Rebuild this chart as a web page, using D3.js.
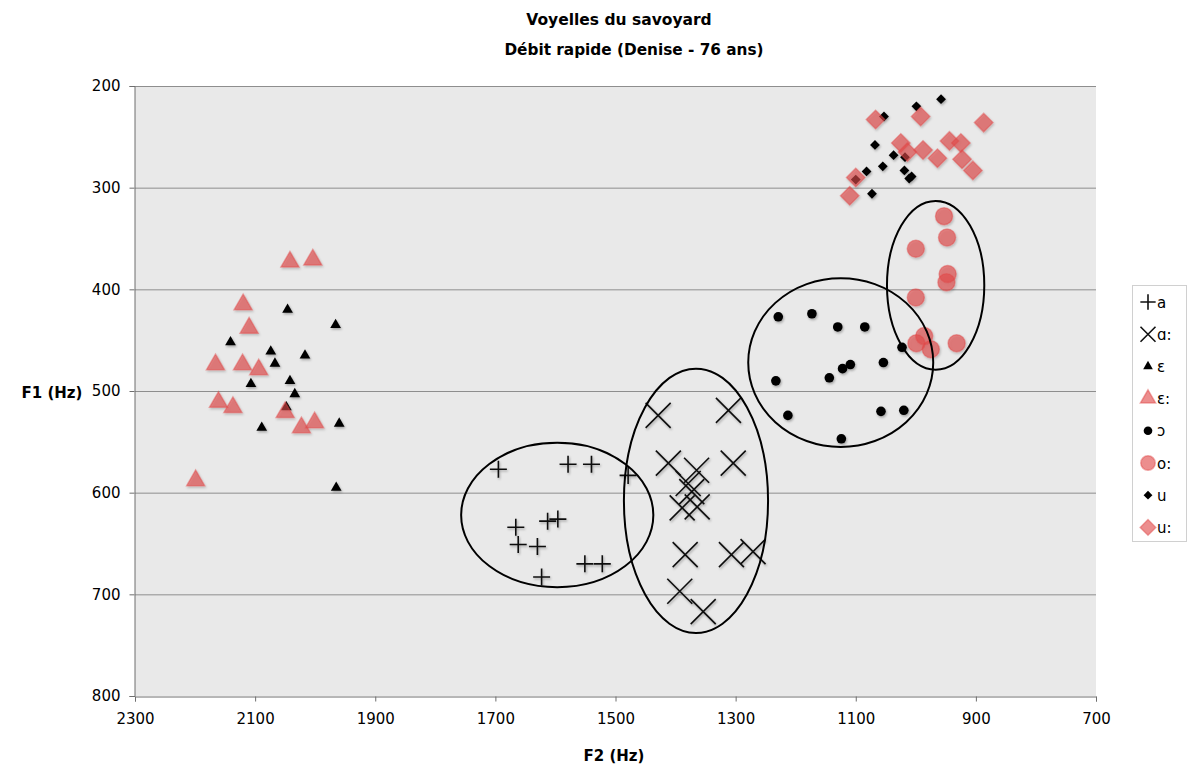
<!DOCTYPE html>
<html>
<head>
<meta charset="utf-8">
<script src="https://cdn.jsdelivr.net/npm/d3@7"></script>
<style>
  body { margin: 0; background: #fff; }
  svg { display: block; font-family: "DejaVu Sans", Verdana, sans-serif; }
</style>
</head>
<body>
<div id="chart"></div>
<script>
// values: F2 (Hz), F1 (Hz)
const aF2 = [1695, 1579, 1540, 1479, 1666, 1613, 1596, 1662, 1630, 1551, 1522, 1623];
const aF1 = [577, 572, 572, 583, 634, 628, 626, 651, 653, 670, 670, 683];

const aaF2 = [1429, 1312, 1412, 1365, 1304, 1379, 1373, 1389, 1364, 1384, 1307, 1271, 1393, 1354];
const aaF1 = [524, 519, 571, 578, 571, 591, 599, 615, 614, 661, 661, 658, 697, 717];

const eF2 = [2046, 1966, 2141, 2074, 2017, 2067, 2107, 2042, 2034, 2048, 2089, 1960, 1965];
const eF1 = [420, 435, 452, 461, 465, 473, 493, 490, 503, 516, 536, 532, 595];

const eeF2 = [2042, 2004, 2120, 2110, 2166, 2121, 2094, 2161, 2137, 2050, 2023, 2001, 2199];
const eeF1 = [373, 371, 415, 438, 474, 474, 479, 511, 516, 521, 536, 531, 588];

const oF2 = [1229, 1173, 1130, 1085, 1023, 1109, 1122, 1054, 1144, 1233, 1213, 1058, 1020, 1124];
const oF1 = [427, 424, 437, 437, 457, 474, 478, 472, 487, 490, 524, 520, 519, 547];

const ooF2 = [953, 948, 1000, 947, 949, 1000, 986, 999, 975, 932];
const ooF1 = [328, 349, 360, 385, 393, 408, 446, 453, 459, 453];

const uF2 = [958, 999, 1053, 1068, 1037, 1018, 1055, 1082, 1019, 1011, 1007, 1100, 1073];
const uF1 = [213, 220, 230, 258, 268, 270, 279, 284, 283, 291, 289, 292, 306];

const uuF2 = [1067, 992, 887, 1025, 1014, 988, 964, 944, 925, 923, 905, 1100, 1110];
const uuF1 = [233, 230, 236, 256, 265, 263, 271, 254, 256, 272, 283, 290, 308];

// ellipses round the groups: centre F2, centre F1, half width (Hz), half height (Hz)
const ellipseF2 = [1597, 1366, 1125, 967];
const ellipseF1 = [622, 608, 472, 396];
const ellipseRx = [160, 120, 154, 81];
const ellipseRy = [71, 130, 83, 83];

const legendLabels = ['a', 'ɑ:', 'ɛ', 'ɛ:', 'ɔ', 'o:', 'u', 'u:'];
const xTicks = [2300, 2100, 1900, 1700, 1500, 1300, 1100, 900, 700];
const yTicks = [200, 300, 400, 500, 600, 700, 800];

const w = 1188, h = 769;
const margin = {top: 86, right: 92, bottom: 73, left: 135};

const xScale = d3.scaleLinear().domain([2300, 700]).range([margin.left, w - margin.right]);
const yScale = d3.scaleLinear().domain([200, 800]).range([margin.top, h - margin.bottom]);

const svg = d3.select('#chart').append('svg')
  .attr('width', w).attr('height', h);

const defs = svg.append('defs');
const shadow = defs.append('filter').attr('id', 'shadow')
  .attr('x', '-30%').attr('y', '-30%').attr('width', '160%').attr('height', '160%');
shadow.append('feDropShadow')
  .attr('dx', 1).attr('dy', 1.5).attr('stdDeviation', 0.8)
  .attr('flood-color', '#000').attr('flood-opacity', 0.3);

// plot background
svg.append('rect')
  .attr('x', margin.left).attr('y', margin.top)
  .attr('width', w - margin.left - margin.right)
  .attr('height', h - margin.top - margin.bottom)
  .attr('fill', '#e9e9e9');

// horizontal grid
svg.append('g')
  .selectAll('line')
  .data(yTicks.slice(0, -1))
  .join('line')
  .attr('x1', margin.left).attr('x2', w - margin.right)
  .attr('y1', d => yScale(d) + 0.5).attr('y2', d => yScale(d) + 0.5)
  .attr('stroke', '#8e8e8e');

// axes
const xAxis = d3.axisBottom(xScale).tickValues(xTicks).tickSize(5).tickPadding(12).tickFormat(d3.format('d'));
const yAxis = d3.axisLeft(yScale).tickValues(yTicks).tickSize(5).tickPadding(9).tickFormat(d3.format('d'));

svg.append('g')
  .attr('transform', `translate(0, ${h - margin.bottom + 0.5})`)
  .call(xAxis)
  .call(g => g.select('.domain').attr('stroke', '#6e6e6e'))
  .call(g => g.selectAll('.tick line').attr('stroke', '#6e6e6e'));

svg.append('g')
  .attr('transform', `translate(${margin.left - 0.5}, 0)`)
  .call(yAxis)
  .call(g => g.select('.domain').attr('stroke', '#6e6e6e'))
  .call(g => g.selectAll('.tick line').attr('stroke', '#6e6e6e'));

svg.selectAll('.tick text')
  .attr('fill', '#000')
  .style('font-size', '15px')
  .style('font-family', '"DejaVu Sans", Verdana, sans-serif');

// titles
svg.append('text')
  .attr('x', 619).attr('y', 25)
  .attr('text-anchor', 'middle')
  .style('font-size', '15.5px').style('font-weight', 'bold')
  .text('Voyelles du savoyard');
svg.append('text')
  .attr('x', 634).attr('y', 55)
  .attr('text-anchor', 'middle')
  .style('font-size', '15.3px').style('font-weight', 'bold')
  .text('Débit rapide (Denise - 76 ans)');
svg.append('text')
  .attr('x', 614).attr('y', 761)
  .attr('text-anchor', 'middle')
  .style('font-size', '15px').style('font-weight', 'bold')
  .text('F2 (Hz)');
svg.append('text')
  .attr('x', 52).attr('y', 398)
  .attr('text-anchor', 'middle')
  .style('font-size', '15px').style('font-weight', 'bold')
  .text('F1 (Hz)');

// marker drawers
const red = '#e04848';
const markers = [
  {type: 'plus', size: 8.5, color: '#111'},
  {type: 'cross', size: 12.5, color: '#111'},
  {type: 'tri', area: 50, color: '#000'},
  {type: 'tri', area: 140, color: red, alpha: true},
  {type: 'circle', r: 4.8, color: '#000'},
  {type: 'circle', r: 8.5, color: red, alpha: true},
  {type: 'diamond', area: 48, color: '#000'},
  {type: 'diamond', area: 170, color: red, alpha: true}
];

function drawMarker(g, m, scale) {
  const s = scale || 1;
  if (m.type === 'plus') {
    const a = m.size * s;
    g.append('path').attr('d', `M${-a},0H${a}M0,${-a}V${a}`)
      .attr('stroke', m.color).attr('stroke-width', 1.6).attr('fill', 'none');
  } else if (m.type === 'cross') {
    const a = m.size * s;
    g.append('path').attr('d', `M${-a},${-a}L${a},${a}M${-a},${a}L${a},${-a}`)
      .attr('stroke', m.color).attr('stroke-width', 1.6).attr('fill', 'none');
  } else {
    let p;
    if (m.type === 'tri') p = d3.symbol(d3.symbolTriangle, m.area * s * s)();
    if (m.type === 'circle') p = d3.symbol(d3.symbolCircle, Math.PI * m.r * m.r * s * s)();
    if (m.type === 'diamond') p = d3.symbol(d3.symbolSquare, m.area * s * s)();
    const el = g.append('path').attr('d', p)
      .attr('fill', m.color);
    if (m.type === 'diamond') el.attr('transform', 'rotate(45)');
    if (m.alpha) {
      el.attr('fill-opacity', 0.62)
        .attr('stroke', m.color).attr('stroke-opacity', 0.45).attr('stroke-width', 1.5);
    }
  }
}

const series = [
  [aF2, aF1], [aaF2, aaF1], [eF2, eF1], [eeF2, eeF1],
  [oF2, oF1], [ooF2, ooF1], [uF2, uF1], [uuF2, uuF1]
];

const points = svg.append('g').attr('filter', 'url(#shadow)');
series.forEach(([f2, f1], i) => {
  f2.forEach((v, j) => {
    const g = points.append('g')
      .attr('transform', `translate(${xScale(v)}, ${yScale(f1[j])})`);
    drawMarker(g, markers[i]);
  });
});

// ellipses
svg.append('g')
  .selectAll('ellipse')
  .data(ellipseF2)
  .join('ellipse')
  .attr('cx', d => xScale(d))
  .attr('cy', (d, i) => yScale(ellipseF1[i]))
  .attr('rx', (d, i) => xScale(0) - xScale(ellipseRx[i]))
  .attr('ry', (d, i) => yScale(ellipseRy[i]) - yScale(0))
  .attr('fill', 'none')
  .attr('stroke', '#000')
  .attr('stroke-width', 2);

// legend
const legend = svg.append('g').attr('transform', 'translate(1132, 285)');
legend.append('rect')
  .attr('x', 0.5).attr('y', 0.5).attr('width', 54).attr('height', 256)
  .attr('fill', '#fff').attr('stroke', '#d0d0d0');
legendLabels.forEach((label, i) => {
  const row = legend.append('g').attr('transform', `translate(0, ${17 + i * 32.2})`);
  const mg = row.append('g').attr('transform', 'translate(16, 0)');
  drawMarker(mg, markers[i], i === 1 ? 0.6 : (markers[i].alpha ? 0.85 : 0.9));
  row.append('text')
    .attr('x', 25).attr('y', 5.5)
    .style('font-size', '15px')
    .text(label);
});
</script>
</body>
</html>
